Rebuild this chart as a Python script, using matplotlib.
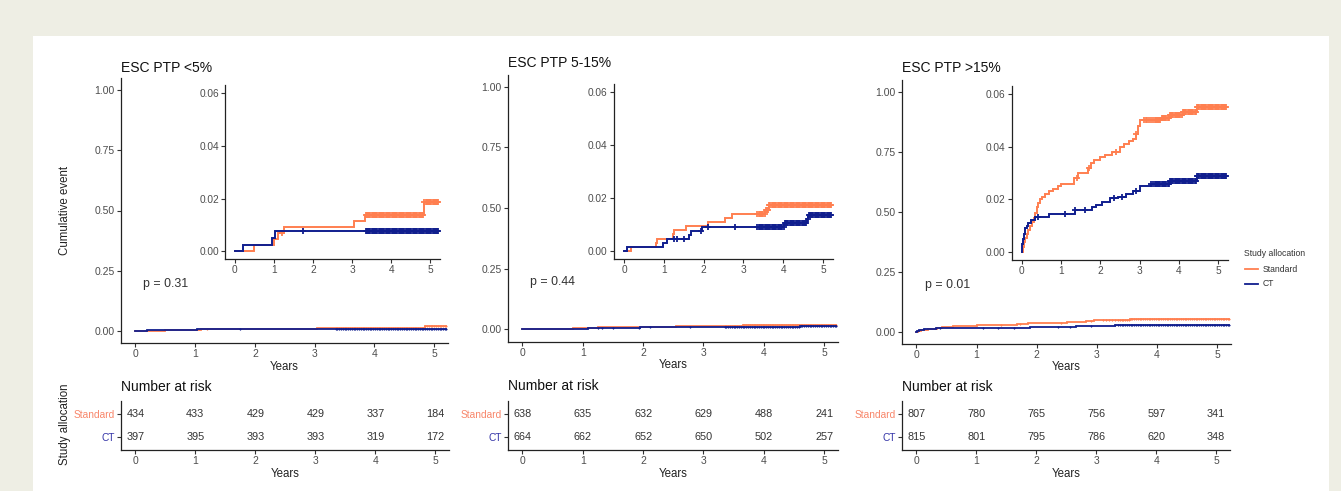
import numpy as np
import matplotlib
matplotlib.use("Agg")
import matplotlib.pyplot as plt
from matplotlib.lines import Line2D
from matplotlib.patches import Rectangle
from matplotlib.ticker import FormatStrFormatter

plt.rcParams["font.family"] = ["Liberation Sans", "DejaVu Sans"]

# ---------------- data ----------------
panel_titles = ["ESC PTP <5%", "ESC PTP 5-15%", "ESC PTP >15%"]
p_values = ["p = 0.31", "p = 0.44", "p = 0.01"]
groups = ["Standard", "CT"]
risk_years = [0, 1, 2, 3, 4, 5]

# cumulative event curves (step times in years, cumulative proportion after each step)
std1_t = [0, 0.5, 1.0, 1.1, 1.25, 3.04, 3.34, 4.85]
std1_y = [0, 0.0023, 0.0046, 0.0069, 0.0092, 0.0115, 0.0138, 0.0185]
ct1_t = [0, 0.2, 0.95, 1.03]
ct1_y = [0, 0.0025, 0.005, 0.0076]

std2_t = [0, 0.18, 0.8, 0.83, 1.23, 1.26, 1.55, 2.1, 2.55, 2.72, 3.55, 3.65]
std2_y = [0, 0.0016, 0.0031, 0.0047, 0.0063, 0.0078, 0.0094, 0.011, 0.0125, 0.014, 0.0156, 0.0172]
ct2_t = [0, 0.08, 0.98, 1.08, 1.63, 1.68, 1.95, 4.02, 4.6, 4.63]
ct2_y = [0, 0.0015, 0.003, 0.0045, 0.006, 0.0075, 0.009, 0.0105, 0.012, 0.0136]

std3_t = [0, 0.02, 0.05, 0.08, 0.12, 0.16, 0.2, 0.25, 0.3, 0.34, 0.38, 0.42, 0.46, 0.52,
          0.6, 0.7, 0.8, 0.92, 1.0, 1.32, 1.42, 1.68, 1.76, 1.85, 2.0, 2.12, 2.3, 2.5,
          2.6, 2.72, 2.82, 2.9, 2.96, 3.02, 3.55, 3.75, 4.1, 4.45]
std3_y = [0, 0.002, 0.004, 0.0055, 0.007, 0.0085, 0.010, 0.0115, 0.013, 0.015, 0.017, 0.0185,
          0.020, 0.021, 0.022, 0.023, 0.024, 0.025, 0.026, 0.028, 0.030, 0.032, 0.034, 0.035,
          0.036, 0.037, 0.038, 0.040, 0.041, 0.042, 0.043, 0.045, 0.048, 0.050, 0.051, 0.052,
          0.053, 0.055]
ct3_t = [0, 0.01, 0.03, 0.05, 0.08, 0.12, 0.17, 0.24, 0.33, 0.7, 1.35, 1.78, 1.88, 2.05,
         2.25, 2.45, 2.65, 2.83, 3.0, 3.3, 3.77, 4.45]
ct3_y = [0, 0.003, 0.005, 0.007, 0.009, 0.010, 0.011, 0.012, 0.0135, 0.0145, 0.016, 0.017,
         0.018, 0.019, 0.0205, 0.021, 0.022, 0.023, 0.025, 0.026, 0.027, 0.029]

# censoring times
late_censor = [3.35, 3.38, 3.41, 3.44, 3.47, 3.5, 3.53, 3.56, 3.59, 3.62, 3.65, 3.68, 3.71,
               3.74, 3.77, 3.8, 3.83, 3.86, 3.89, 3.92, 3.95, 3.98, 4.01, 4.04, 4.07, 4.1,
               4.13, 4.16, 4.19, 4.22, 4.25, 4.28, 4.31, 4.34, 4.37, 4.4, 4.43, 4.46, 4.49,
               4.52, 4.55, 4.58, 4.61, 4.64, 4.67, 4.7, 4.73, 4.76, 4.79, 4.82, 4.85, 4.88,
               4.91, 4.94, 4.97, 5.0, 5.03, 5.06, 5.09, 5.12, 5.15, 5.18, 5.2]
std1_cens = [1.2] + late_censor
ct1_cens = [1.75] + late_censor
std2_cens = late_censor
ct2_cens = [1.25, 1.32, 1.5, 1.93, 2.12, 2.78] + late_censor
std3_cens = [1.4, 1.72, 2.4, 2.9, 3.1, 3.15, 3.2, 3.25, 3.3] + late_censor
ct3_cens = [0.4, 1.1, 1.35, 1.62, 2.35, 2.55, 2.9, 3.3] + late_censor

# number at risk
std1_risk = [434, 433, 429, 429, 337, 184]
ct1_risk = [397, 395, 393, 393, 319, 172]
std2_risk = [638, 635, 632, 629, 488, 241]
ct2_risk = [664, 662, 652, 650, 502, 257]
std3_risk = [807, 780, 765, 756, 597, 341]
ct3_risk = [815, 801, 795, 786, 620, 348]

curves = [
    ((std1_t, std1_y, std1_cens), (ct1_t, ct1_y, ct1_cens)),
    ((std2_t, std2_y, std2_cens), (ct2_t, ct2_y, ct2_cens)),
    ((std3_t, std3_y, std3_cens), (ct3_t, ct3_y, ct3_cens)),
]
risks = [(std1_risk, ct1_risk), (std2_risk, ct2_risk), (std3_risk, ct3_risk)]

# ---------------- style ----------------
W, H = 1341, 491
C_STD = "#FF7F50"
C_CT = "#101E8E"
C_STD_TXT = "#F8866A"
C_CT_TXT = "#3535A8"
TICK_TXT = "#4D4D4D"
END_T = 5.2

fig = plt.figure(figsize=(W / 100, H / 100), dpi=100, facecolor="#EEEEE4")
fig.patches.append(Rectangle((33 / W, 0), (1329 - 33) / W, 1 - 36 / H,
                             transform=fig.transFigure, facecolor="white",
                             edgecolor="none", zorder=-10))


def fx(x):
    return x / W


def fy(y):
    return 1 - y / H


def px_axes(x0, y0, x1, y1):
    return fig.add_axes([fx(x0), fy(y1), (x1 - x0) / W, (y1 - y0) / H])


def style_axes(ax, fs=7.5):
    for s in ("top", "right"):
        ax.spines[s].set_visible(False)
    for s in ("left", "bottom"):
        ax.spines[s].set_color("#222222")
        ax.spines[s].set_linewidth(0.9)
    ax.tick_params(direction="out", length=3, width=0.8, color="#333333",
                   labelsize=fs, labelcolor=TICK_TXT, pad=1.5)
    ax.set_facecolor("none")


def draw_curve(ax, t, y, cens, color, lw=1.4, ms=5, mew=1.2):
    tt = np.r_[t, END_T]
    yy = np.r_[y, y[-1]]
    ax.step(tt, yy, where="post", color=color, lw=lw, solid_joinstyle="miter")
    c = np.asarray(cens)
    idx = np.searchsorted(np.asarray(t), c, side="right") - 1
    ax.plot(c, np.asarray(y)[idx], linestyle="none", marker="+", ms=ms,
            mew=mew, color=color)


main_pos = [(121, 78, 448, 343), (508, 74.6, 838, 341.5), (902, 79.7, 1231, 343.7)]
inset_pos = [(225, 85.4, 440, 259), (614, 83.7, 833, 259), (1012, 86.1, 1228, 260)]
table_pos = [(121, 400.7, 449, 450), (508, 400.7, 838, 450), (902, 400.7, 1230, 450)]
title_xy = [(121, 67.5), (508, 63), (902, 68.5)]
pval_xy = [(143, 284), (530, 282), (925, 285)]
risk_title_xy = [(121, 387), (508, 386), (902, 387)]

for i in range(3):
    (st, sy, sc), (ctt, cty, ctc) = curves[i]

    # main panel
    ax = px_axes(*main_pos[i])
    style_axes(ax)
    draw_curve(ax, st, sy, sc, C_STD, lw=1.3, ms=2, mew=0.8)
    draw_curve(ax, ctt, cty, ctc, C_CT, lw=1.3, ms=2, mew=0.8)
    ax.set_xlim(-0.24, 5.23)
    ax.set_ylim(-0.05, 1.05)
    ax.set_xticks(risk_years)
    ax.set_yticks([0, 0.25, 0.5, 0.75, 1.0])
    ax.yaxis.set_major_formatter(FormatStrFormatter("%.2f"))
    ax.set_xlabel("Years", fontsize=8.3, color="#222222", labelpad=1)

    # inset zoom
    ins = px_axes(*inset_pos[i])
    style_axes(ins, fs=7.3)
    draw_curve(ins, st, sy, sc, C_STD, lw=1.4, ms=5, mew=1.3)
    draw_curve(ins, ctt, cty, ctc, C_CT, lw=1.4, ms=5, mew=1.3)
    ins.set_xlim(-0.25, 5.25)
    ins.set_ylim(-0.003, 0.063)
    ins.set_xticks(risk_years)
    ins.set_yticks([0, 0.02, 0.04, 0.06])
    ins.yaxis.set_major_formatter(FormatStrFormatter("%.2f"))

    fig.text(fx(title_xy[i][0]), fy(title_xy[i][1]), panel_titles[i],
             fontsize=10, color="#111111", ha="left", va="center")
    fig.text(fx(pval_xy[i][0]), fy(pval_xy[i][1]), p_values[i],
             fontsize=8.9, color="#333333", ha="left", va="center")

    # number-at-risk table
    tb = px_axes(*table_pos[i])
    style_axes(tb)
    tb.set_xlim(-0.24, 5.23)
    tb.set_ylim(0.45, 2.55)
    tb.set_xticks(risk_years)
    tb.set_yticks([2, 1])
    tb.set_yticklabels(groups, fontsize=7.3)
    for lab, col in zip(tb.get_yticklabels(), [C_STD_TXT, C_CT_TXT]):
        lab.set_color(col)
    tb.set_xlabel("Years", fontsize=8.3, color="#222222", labelpad=1)
    std_r, ct_r = risks[i]
    for yr, a, b in zip(risk_years, std_r, ct_r):
        tb.text(yr, 2, str(a), ha="center", va="center", fontsize=7.8, color="#333333")
        tb.text(yr, 1, str(b), ha="center", va="center", fontsize=7.8, color="#333333")
    fig.text(fx(risk_title_xy[i][0]), fy(risk_title_xy[i][1]), "Number at risk",
             fontsize=10, color="#111111", ha="left", va="center")

# shared axis titles
fig.text(fx(65), fy(210), "Cumulative event", rotation=90, fontsize=8.3,
         color="#222222", ha="center", va="center")
fig.text(fx(65), fy(424), "Study allocation", rotation=90, fontsize=8.3,
         color="#222222", ha="center", va="center")

# legend
fig.text(fx(1244), fy(253), "Study allocation", fontsize=6.2, color="#333333",
         ha="left", va="center")
for yy, col, lab in [(269, C_STD, "Standard"), (283.5, C_CT, "CT")]:
    fig.add_artist(Line2D([fx(1245), fx(1258)], [fy(yy), fy(yy)], color=col, lw=1.3,
                          transform=fig.transFigure))
    fig.text(fx(1263), fy(yy), lab, fontsize=6.2, color="#333333", ha="left", va="center")

fig.savefig("out.png", dpi=100, facecolor=fig.get_facecolor())
